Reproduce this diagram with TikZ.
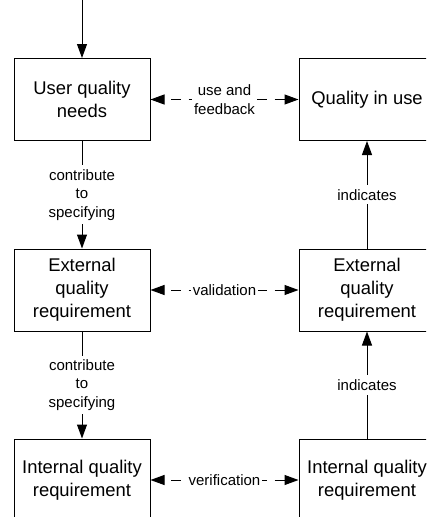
\documentclass[tikz,border=0pt]{standalone}
\usepackage{fontspec}
\setmainfont{Liberation Sans}
\usetikzlibrary{arrows.meta}
\tikzset{
  qbox/.style={draw, fill=white, line width=1pt, minimum width=136pt, minimum height=82pt,
    align=center, inner sep=2pt, font=\fontsize{18.4}{23}\selectfont},
  qlabel/.style={fill=white, align=center, inner xsep=2pt, inner ysep=4pt,
    font=\fontsize{15}{18.5}\selectfont},
  flow/.style={line width=1pt, -{Triangle[length=14pt,width=10pt]}},
  link/.style={line width=1pt, dash pattern=on 10pt off 7.2pt, dash phase=10pt,
    {Triangle[length=14pt,width=10pt]}-{Triangle[length=14pt,width=10pt]}}
}
\begin{document}
\begin{tikzpicture}[x=1pt, y=-1pt]
        \useasboundingbox (0,0) rectangle (426,517);
        \clip (0,0) rectangle (426,517);
        \node [qbox] (needs) at (82, 99.5) {User quality\\needs}; % top-left
        \node [qbox] (inuse) at (367, 99.5) {Quality in use}; % top-right
        \node [qbox] (extreq) at (82, 290) {External\\quality\\requirement}; % middle-left
        \node [qbox] (extq) at (367, 290) {External\\quality\\requirement}; % middle-right
        \node [qbox] (intreq) at (82, 480) {Internal quality\\requirement}; % bottom-left
        \node [qbox] (intq) at (367, 480) {Internal quality\\requirement}; % bottom-right
        \coordinate (entry) at (82, 0);
        \draw [flow] (entry) -- (needs);
        \draw [flow] (needs) -- node [qlabel] {contribute\\to\\specifying} (extreq);
        \draw [flow] (extreq) -- node [qlabel] {contribute\\to\\specifying} (intreq);
        \draw [flow] (extq) -- node [qlabel] {indicates} (inuse);
        \draw [flow] (intq) -- node [qlabel] {indicates} (extq);
        \draw [link] (needs) -- node [qlabel, inner ysep=2pt] {use and\\feedback} (inuse);
        \draw [link] (extreq) -- node [qlabel, inner ysep=2pt] {validation} (extq);
        \draw [link] (intreq) -- node [qlabel, inner ysep=2pt] {verification} (intq);
      \end{tikzpicture}
\end{document}
